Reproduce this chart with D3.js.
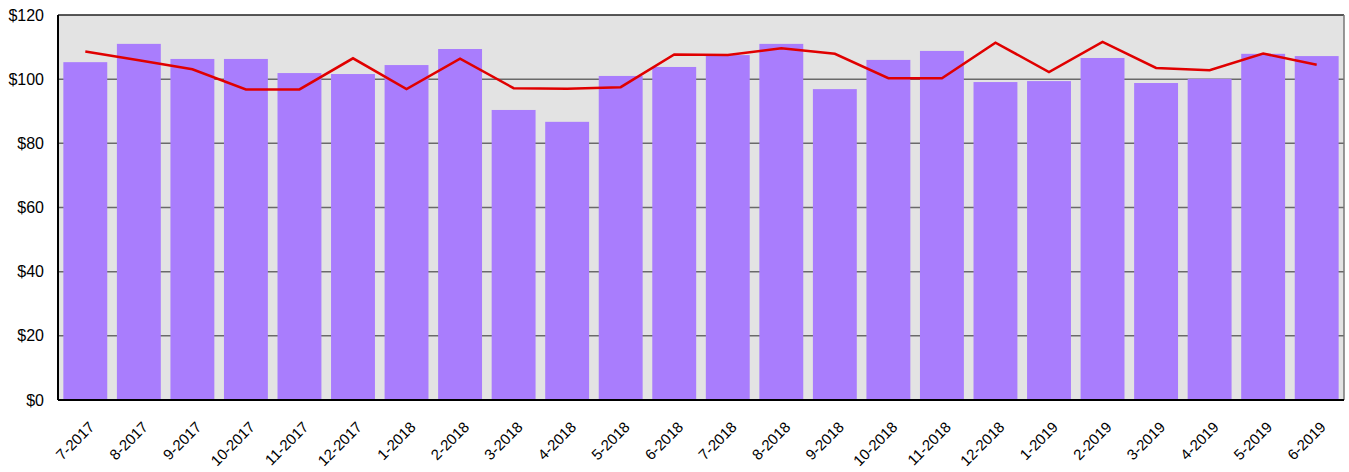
<!DOCTYPE html>
<html>
<head>
<meta charset="utf-8">
<script src="https://cdn.jsdelivr.net/npm/d3@7"></script>
<style>
  body { margin: 0; background: #fff; }
  svg text { font-family: "Liberation Sans", Arial, sans-serif; fill: #000; }
</style>
</head>
<body>
<svg id="chart"></svg>
<script>
const months = ['7-2017', '8-2017', '9-2017', '10-2017', '11-2017', '12-2017',
  '1-2018', '2-2018', '3-2018', '4-2018', '5-2018', '6-2018',
  '7-2018', '8-2018', '9-2018', '10-2018', '11-2018', '12-2018',
  '1-2019', '2-2019', '3-2019', '4-2019', '5-2019', '6-2019'];
const barValues = [105.3, 111.0, 106.3, 106.3, 101.9, 101.6,
  104.4, 109.4, 90.4, 86.7, 101.0, 103.8,
  107.5, 111.0, 96.9, 106.0, 108.8, 99.1,
  99.4, 106.6, 98.8, 100.1, 107.9, 107.2];
const lineValues = [108.6, 105.9, 103.1, 96.8, 96.8, 106.5,
  96.9, 106.4, 97.2, 97.0, 97.5, 107.7,
  107.5, 109.6, 107.9, 100.3, 100.3, 111.4,
  102.2, 111.6, 103.5, 102.8, 108.0, 104.5];
const yTicks = [0, 20, 40, 60, 80, 100, 120];

const W = 1349, H = 472;
const margin = { top: 15, right: 5, bottom: 72, left: 58 };
const width = W - margin.left - margin.right;
const height = H - margin.top - margin.bottom;

const svg = d3.select('#chart').attr('width', W).attr('height', H);
const g = svg.append('g').attr('transform', `translate(${margin.left},${margin.top})`);

const x = d3.scaleBand().domain(months).range([0, width]).paddingInner(0.18).paddingOuter(0.1);
const y = d3.scaleLinear().domain([0, 120]).range([height, 0]);

// plot background
g.append('rect')
  .attr('width', width).attr('height', height)
  .attr('fill', '#e3e3e3');

// gridlines
g.selectAll('.grid')
  .data(yTicks.filter(d => d > 0 && d < 120))
  .enter().append('line')
  .attr('x1', 0).attr('x2', width)
  .attr('y1', d => y(d)).attr('y2', d => y(d))
  .attr('stroke', '#6a6a6a').attr('stroke-width', 1.5);

// bars
g.selectAll('.bar')
  .data(barValues)
  .enter().append('rect')
  .attr('x', (d, i) => x(months[i]))
  .attr('y', d => y(d))
  .attr('width', x.bandwidth())
  .attr('height', d => height - y(d))
  .attr('fill', '#a97dfd');

// red line
const line = d3.line()
  .x((d, i) => x(months[i]) + x.bandwidth() / 2)
  .y(d => y(d));
g.append('path')
  .datum(lineValues)
  .attr('d', line)
  .attr('fill', 'none')
  .attr('stroke', '#e00000')
  .attr('stroke-width', 2.5);

// frame
g.append('line').attr('x1', 0).attr('x2', width).attr('y1', 0).attr('y2', 0)
  .attr('stroke', '#222').attr('stroke-width', 1.5);
g.append('line').attr('x1', width).attr('x2', width).attr('y1', 0).attr('y2', height)
  .attr('stroke', '#777').attr('stroke-width', 1.5);
g.append('line').attr('x1', 0).attr('x2', 0).attr('y1', 0).attr('y2', height)
  .attr('stroke', '#000').attr('stroke-width', 2);
g.append('line').attr('x1', 0).attr('x2', width).attr('y1', height).attr('y2', height)
  .attr('stroke', '#000').attr('stroke-width', 2);

// y axis labels
g.selectAll('.ylab')
  .data(yTicks)
  .enter().append('text')
  .attr('x', -14)
  .attr('y', d => y(d))
  .attr('dy', '0.35em')
  .attr('text-anchor', 'end')
  .style('font-size', '16px')
  .text(d => '$' + d);

// x axis labels
g.selectAll('.xlab')
  .data(months)
  .enter().append('text')
  .attr('text-anchor', 'end')
  .attr('transform', d => `translate(${x(d) + x.bandwidth() / 2 + 10},${height + 28}) rotate(-45)`)
  .style('font-size', '15px')
  .text(d => d);
</script>
</body>
</html>
